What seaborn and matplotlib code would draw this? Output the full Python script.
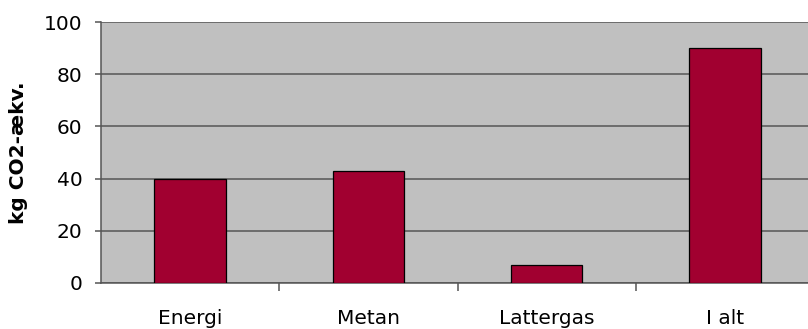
import matplotlib
matplotlib.use("Agg")
import matplotlib.pyplot as plt
from matplotlib.ticker import FixedLocator
import seaborn as sns
import pandas as pd

categories = ["Energi", "Metan", "Lattergas", "I alt"]
values = [40, 43, 7, 90]
y_ticks = [0, 20, 40, 60, 80, 100]

sns.set_theme(style="white")
plt.rcParams["font.family"] = ["DejaVu Sans"]

df = pd.DataFrame({"kategori": categories, "co2": values})

fig = plt.figure(figsize=(8.08, 3.29), dpi=100)
W, H = 808, 329
ax = fig.add_axes([101 / W, (H - 283) / H, 713 / W, 261 / H])
ax.set_facecolor("#C0C0C0")

sns.barplot(data=df, x="kategori", y="co2", ax=ax, width=0.4,
            color="#A10030", saturation=1, edgecolor="black", linewidth=0.9,
            zorder=3)

ax.set_xlim(-0.5, len(categories) - 0.5)
ax.set_ylim(0, 100)
ax.set_yticks(y_ticks)
ax.yaxis.grid(True, color="#555555", linewidth=1.1, zorder=1)
ax.set_axisbelow(True)

for side in ("top", "right"):
    ax.spines[side].set_visible(False)
for side in ("left", "bottom"):
    ax.spines[side].set_color("#555555")
    ax.spines[side].set_linewidth(1.1)

# category labels centred under the bars, tick marks between categories
ax.tick_params(axis="x", which="major", length=0, pad=19, labelsize=14.5,
               labelcolor="black")
ax.xaxis.set_minor_locator(FixedLocator([0.5, 1.5, 2.5]))
ax.tick_params(axis="x", which="minor", bottom=True, length=5.5, width=1.1,
               color="#555555", direction="out")
ax.tick_params(axis="y", left=True, length=4.5, width=1.1, color="#555555",
               direction="out", pad=9, labelsize=14.5, labelcolor="black")

ax.set_xlabel("")
ax.set_ylabel("")
fig.text(19 / W, 1 - 153 / H, "kg CO2-ækv.", rotation=90, ha="center",
         va="center", fontsize=14.5, fontweight="bold", color="black")

fig.savefig("out.png", dpi=100)
